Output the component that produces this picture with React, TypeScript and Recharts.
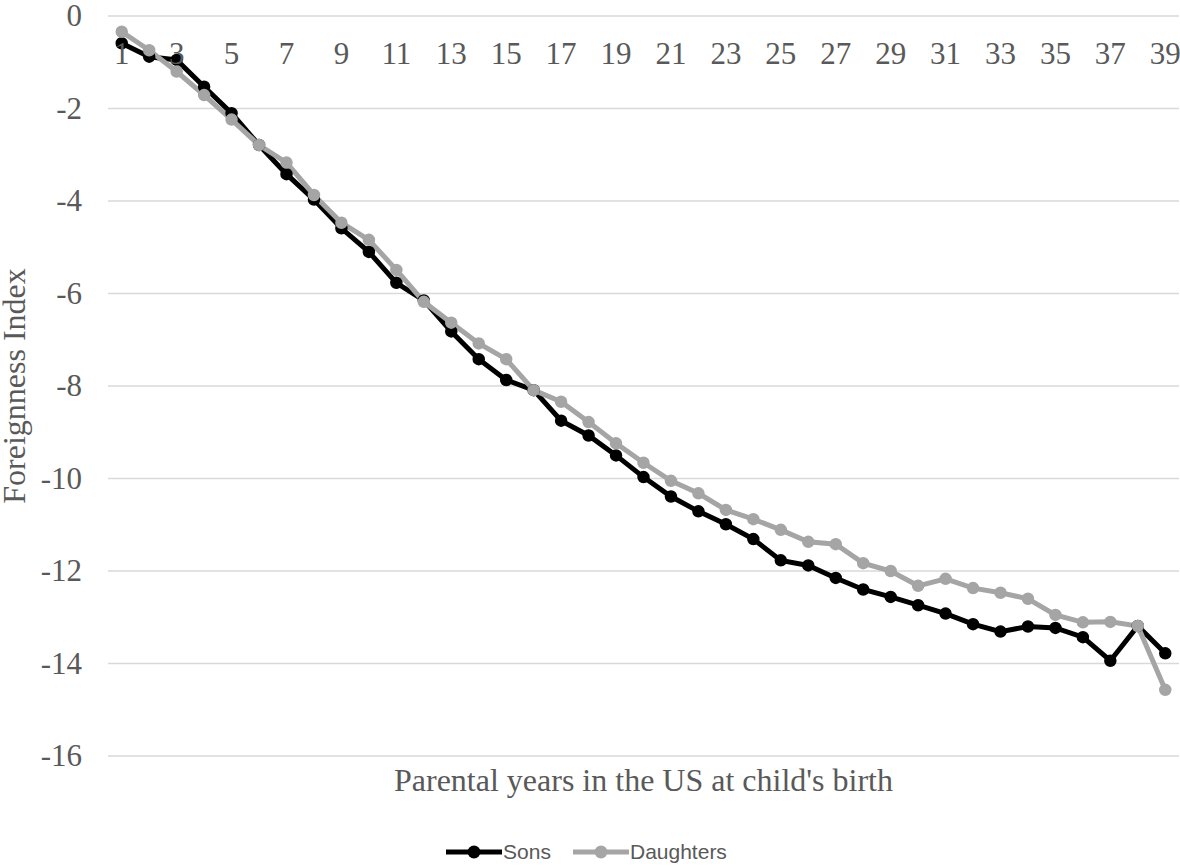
import React from "react";
import { LineChart, Line, XAxis, YAxis, CartesianGrid, Legend } from "recharts";

const years = [1, 2, 3, 4, 5, 6, 7, 8, 9, 10, 11, 12, 13, 14, 15, 16, 17, 18, 19, 20, 21, 22, 23, 24, 25, 26, 27, 28, 29, 30, 31, 32, 33, 34, 35, 36, 37, 38, 39];

const sons = [-0.59, -0.88, -0.95, -1.53, -2.1, -2.79, -3.42, -3.97, -4.59, -5.1, -5.77, -6.15, -6.82, -7.42, -7.87, -8.09, -8.75, -9.07, -9.5, -9.97, -10.39, -10.71, -10.99, -11.31, -11.77, -11.88, -12.15, -12.4, -12.56, -12.74, -12.92, -13.15, -13.31, -13.2, -13.23, -13.43, -13.94, -13.19, -13.78];

const daughters = [-0.34, -0.74, -1.2, -1.71, -2.24, -2.79, -3.17, -3.87, -4.47, -4.84, -5.49, -6.18, -6.63, -7.08, -7.42, -8.09, -8.34, -8.78, -9.24, -9.66, -10.05, -10.32, -10.68, -10.88, -11.11, -11.37, -11.42, -11.83, -12.0, -12.32, -12.17, -12.37, -12.47, -12.6, -12.95, -13.11, -13.1, -13.19, -14.57];

const yTicks = [0, -2, -4, -6, -8, -10, -12, -14, -16];

const seriesNames = ["Sons", "Daughters"];
const seriesColors = ["#000000", "#a5a5a5"];

const xTitle = "Parental years in the US at child's birth";
const yTitle = "Foreignness Index";

const data = years.map((y, i) => ({ year: y, sons: sons[i], daughters: daughters[i] }));

const SERIF = "'Liberation Serif', 'Times New Roman', serif";
const TEXT_GRAY = "#595959";

const XTick = (props: any) => {
  const { x, y, payload } = props;
  return (
    <text x={x} y={y + 48} textAnchor="middle" fontFamily={SERIF} fontSize={31} fill={TEXT_GRAY}>
      {payload.value}
    </text>
  );
};

const YTick = (props: any) => {
  const { x, y, payload } = props;
  return (
    <text x={x} y={y + 10} textAnchor="end" fontFamily={SERIF} fontSize={31} fill={TEXT_GRAY}>
      {payload.value}
    </text>
  );
};

const YTitle = (props: any) => {
  const vb = props.viewBox || {};
  const cx = (vb.x || 0) + 25;
  const cy = (vb.y || 0) + (vb.height || 0) / 2;
  return (
    <text x={cx} y={cy} transform={`rotate(-90, ${cx}, ${cy})`} textAnchor="middle" fontFamily={SERIF} fontSize={32} fill={TEXT_GRAY}>
      {yTitle}
    </text>
  );
};

const XTitle = (props: any) => {
  const vb = props.viewBox || {};
  const cx = (vb.x || 0) + (vb.width || 0) / 2;
  const cy = (vb.y || 0) + 35;
  return (
    <text x={cx} y={cy} textAnchor="middle" fontFamily={SERIF} fontSize={32} fill={TEXT_GRAY}>
      {xTitle}
    </text>
  );
};

const LegendContent = () => (
  <div
    style={{
      height: 30,
      display: "flex",
      justifyContent: "center",
      alignItems: "center",
      fontFamily: "'Liberation Sans', Arial, sans-serif",
      fontSize: 21,
      color: TEXT_GRAY,
      paddingRight: 6,
    }}
  >
    {seriesNames.map((name, i) => (
      <div key={name} style={{ display: "flex", alignItems: "center", marginRight: i === 0 ? 22 : 0 }}>
        <svg width={56} height={16} style={{ display: "block" }}>
          <line x1={0} y1={8} x2={56} y2={8} stroke={seriesColors[i]} strokeWidth={5} />
          <circle cx={28} cy={8} r={6.5} fill={seriesColors[i]} />
        </svg>
        <span style={{ marginLeft: 1 }}>{name}</span>
      </div>
    ))}
  </div>
);

export default function App() {
  return (
    <div style={{ position: "absolute", left: 0, top: 0, width: 1180, height: 867, background: "#fff" }}>
      <LineChart width={1180} height={867} data={data} margin={{ top: 0, right: 1, bottom: 0, left: 0 }}>
        <CartesianGrid vertical={false} stroke="#d9d9d9" strokeWidth={1.5} />
        <XAxis
          dataKey="year"
          orientation="top"
          scale="band"
          height={16}
          axisLine={false}
          tickLine={false}
          tickSize={0}
          tickMargin={0}
          interval={1}
          tick={<XTick />}
        />
        <XAxis
          xAxisId="title"
          dataKey="year"
          orientation="bottom"
          scale="band"
          height={81}
          axisLine={false}
          tickLine={false}
          tick={false}
          label={<XTitle />}
        />
        <YAxis
          width={108}
          domain={[-16, 0]}
          ticks={yTicks}
          interval={0}
          axisLine={false}
          tickLine={false}
          tickSize={0}
          tickMargin={26}
          tick={<YTick />}
          label={<YTitle />}
        />
        <Legend verticalAlign="bottom" content={<LegendContent />} />
        <Line
          type="linear"
          dataKey="sons"
          name={seriesNames[0]}
          stroke={seriesColors[0]}
          strokeWidth={5}
          dot={{ r: 5.5, fill: seriesColors[0], stroke: seriesColors[0], strokeWidth: 1.5 }}
          activeDot={false}
          isAnimationActive={false}
        />
        <Line
          type="linear"
          dataKey="daughters"
          name={seriesNames[1]}
          stroke={seriesColors[1]}
          strokeWidth={5}
          dot={{ r: 5.5, fill: seriesColors[1], stroke: seriesColors[1], strokeWidth: 1.5 }}
          activeDot={false}
          isAnimationActive={false}
        />
      </LineChart>
    </div>
  );
}
